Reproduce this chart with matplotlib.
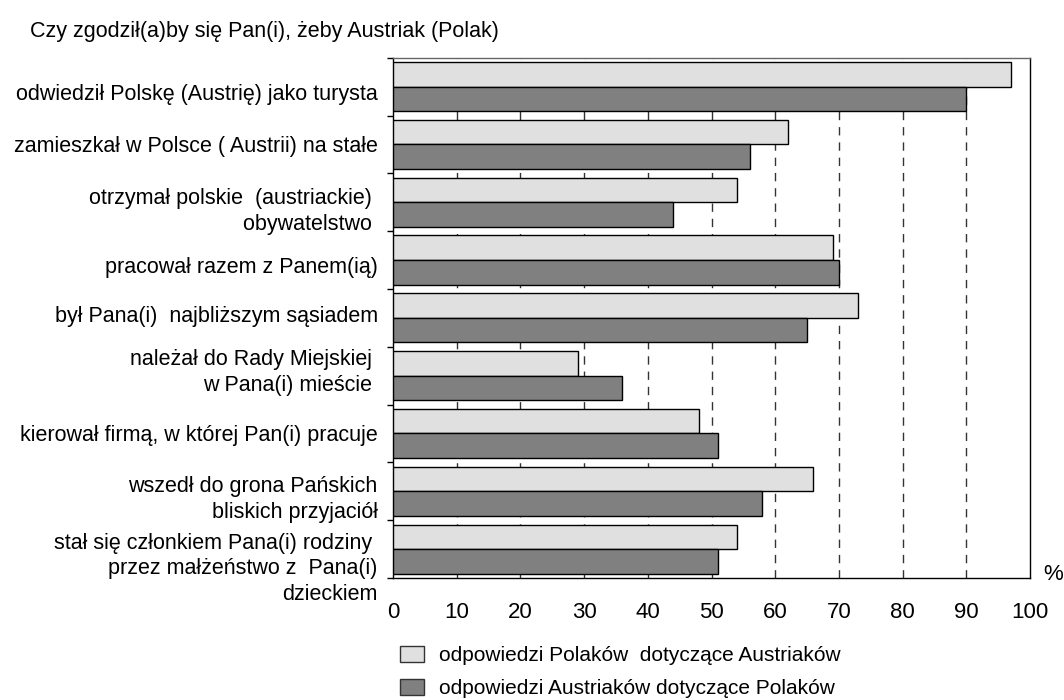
import matplotlib
matplotlib.use("Agg")
import matplotlib.pyplot as plt
import matplotlib.patches as mpatches
import matplotlib.transforms as mtransforms
import numpy as np

plt.rcParams["font.family"] = ["Liberation Sans", "DejaVu Sans"]

title = "Czy zgodził(a)by się Pan(i), żeby Austriak (Polak)"
categories = [
    "odwiedził Polskę (Austrię) jako turysta",
    "zamieszkał w Polsce ( Austrii) na stałe",
    "otrzymał polskie  (austriackie) \nobywatelstwo ",
    "pracował razem z Panem(ią)",
    "był Pana(i)  najbliższym sąsiadem",
    "należał do Rady Miejskiej \nw Pana(i) mieście ",
    "kierował firmą, w której Pan(i) pracuje",
    "wszedł do grona Pańskich\nbliskich przyjaciół",
    "stał się członkiem Pana(i) rodziny \nprzez małżeństwo z  Pana(i)\ndzieckiem",
]
polacy = [97, 62, 54, 69, 73, 29, 48, 66, 54]
austriacy = [90, 56, 44, 70, 65, 36, 51, 58, 51]
series_labels = [
    "odpowiedzi Polaków  dotyczące Austriaków",
    "odpowiedzi Austriaków dotyczące Polaków",
]
x_ticks = list(range(0, 101, 10))

light = "#e0e0e0"
dark = "#808080"
# small vertical shifts of the category labels (pixels, down = positive)
label_nudge_px = [5, 0, 4, 5, -4, -8, 0, 3, 15]

fig = plt.figure(figsize=(10.64, 7.0), dpi=100)
ax = fig.add_axes([393 / 1064, 1 - 578 / 700, (1030 - 393) / 1064, (578 - 57.7) / 700])

y = np.arange(len(categories))
h = 0.425
ax.barh(y - h / 2, polacy, height=h, color=light, edgecolor="black", linewidth=1.0, zorder=3)
ax.barh(y + h / 2, austriacy, height=h, color=dark, edgecolor="black", linewidth=1.0, zorder=3)

ax.set_xlim(0, 100)
ax.set_ylim(len(categories) - 0.5, -0.5)
ax.set_xticks(x_ticks)
ax.set_xticklabels([str(v) for v in x_ticks], fontsize=16)
ax.tick_params(axis="x", length=0, pad=17)
ax.set_yticks(y)
ax.set_yticklabels(categories, fontsize=15.5, linespacing=1.3)
ax.tick_params(axis="y", which="major", length=0, pad=11)
ax.set_yticks(np.arange(len(categories) + 1) - 0.5, minor=True)
ax.tick_params(axis="y", which="minor", length=4, direction="out", width=1)

for lbl, dy in zip(ax.get_yticklabels(), label_nudge_px):
    lbl.set_transform(lbl.get_transform() +
                      mtransforms.ScaledTranslation(0, -dy / 100, fig.dpi_scale_trans))

for xv in x_ticks[1:-1]:
    ax.axvline(xv, color="#333333", linewidth=1.0, linestyle=(0, (6, 5)), zorder=1)

for side in ["left", "right", "bottom"]:
    ax.spines[side].set_color("black")
    ax.spines[side].set_linewidth(1.0)
ax.spines["top"].set_color("#666666")
ax.spines["top"].set_linewidth(1.0)

fig.text(30 / 1064, 1 - 31 / 700, title, fontsize=15.5, va="center", ha="left")
fig.text(1043 / 1064, 1 - 575 / 700, "%", fontsize=16, va="center", ha="left")

handles = [
    mpatches.Patch(facecolor=light, edgecolor="#333333", linewidth=1.0),
    mpatches.Patch(facecolor=dark, edgecolor="#333333", linewidth=1.0),
]
fig.legend(handles, series_labels, loc="upper left",
           bbox_to_anchor=(400 / 1064, 1 - 646 / 700), frameon=False,
           fontsize=15, handlelength=1.15, handleheight=0.8,
           handletextpad=0.72, labelspacing=0.65, borderpad=0, borderaxespad=0)

fig.savefig("out.png", dpi=100)
plt.close(fig)
